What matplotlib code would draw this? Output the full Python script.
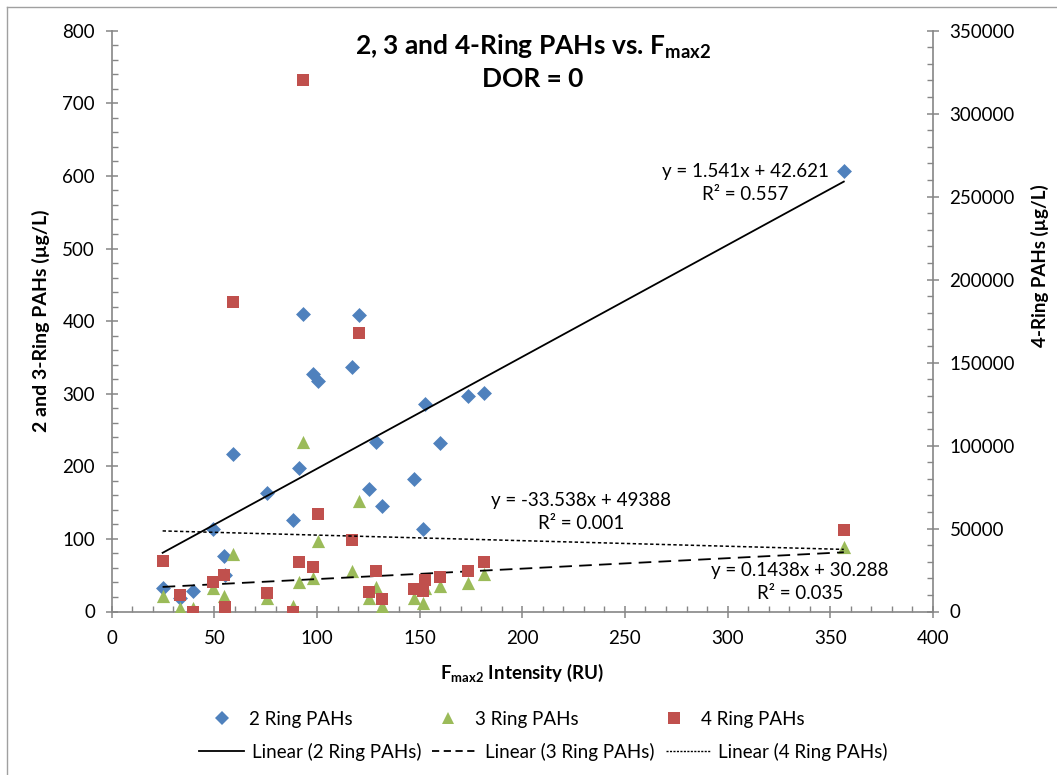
import matplotlib
matplotlib.use("Agg")
import matplotlib.pyplot as plt
from matplotlib.lines import Line2D
from matplotlib.ticker import MultipleLocator
import numpy as np

# Fluorescence intensity (RU) for each sample
fmax2 = [24.8, 33.5, 39.7, 49.2, 54.7, 55.2, 58.9, 75.8, 88.5, 91.4, 93.3, 97.9,
         100.5, 117.0, 120.5, 125.2, 128.6, 131.7, 147.2, 151.5, 152.6, 159.8,
         173.4, 181.5, 356.6]
# PAH concentrations (ug/L)
ring2 = [32, 18.6, 28.2, 114, 76.4, 50, 216.5, 162.8, 126, 198, 410, 327,
         317, 337, 408, 168.3, 233.9, 145.3, 182.5, 113.2, 285.8, 231.7,
         296.4, 300.5, 607.2]
ring3 = [21.8, 4.4, 5, 32, 21.4, 6, 79.2, 18, 8, 41, 233.9, 46.5,
         97.5, 55.8, 151.8, 18.2, 34.2, 7, 19.1, 11.3, 32, 35.8,
         38.9, 51.8, 88.4]
ring4 = [30600, 9950, 0, 17950, 22000, 2900, 186700, 11300, 0, 30000, 320100, 26600,
         58600, 43100, 168000, 11560, 24600, 7530, 13740, 12500, 19000, 21000,
         24400, 30000, 49100]

# Linear trend coefficients (slope, intercept, R^2)
fit2 = (1.541, 42.621, 0.557)
fit3 = (0.1438, 30.288, 0.035)
fit4 = (-33.538, 49388, 0.001)

series_names = ["2 Ring PAHs", "3 Ring PAHs", "4 Ring PAHs"]
c_blue, c_green, c_red = "#4F81BD", "#9BBB59", "#C0504D"
axis_gray = "#868686"

plt.rcParams["font.family"] = ["Lato", "DejaVu Sans"]
plt.rcParams["mathtext.default"] = "regular"

W, H = 1057, 775
fig = plt.figure(figsize=(W / 100, H / 100), dpi=100)
ax = fig.add_axes([111.7 / W, 1 - 611.5 / H, (932.9 - 111.7) / W, (611.5 - 30.7) / H])
ax2 = ax.twinx()

x = np.array(fmax2)
xs = np.array([x.min(), x.max()])

# scatter series
ax.scatter(fmax2, ring2, marker="D", s=7.6 ** 2, color=c_blue, linewidths=0, zorder=3)
ax.scatter(fmax2, ring3, marker="^", s=9.5 ** 2, color=c_green, linewidths=0, zorder=3)
ax2.scatter(fmax2, ring4, marker="s", s=9.0 ** 2, color=c_red, linewidths=0, zorder=3)

# trend lines
ax.plot(xs, fit2[0] * xs + fit2[1], color="black", lw=1.3, zorder=4)
ax.plot(xs, fit3[0] * xs + fit3[1], color="black", lw=1.3, dashes=(7, 4), zorder=4)
ax2.plot(xs, fit4[0] * xs + fit4[1], color="black", lw=1.1, dashes=(2.2, 1.6), zorder=4)

# axes limits and ticks
ax.set_xlim(0, 400)
ax.set_ylim(0, 800)
ax2.set_ylim(0, 350000)
ax.xaxis.set_major_locator(MultipleLocator(50))
ax.xaxis.set_minor_locator(MultipleLocator(10))
ax.yaxis.set_major_locator(MultipleLocator(100))
ax.yaxis.set_minor_locator(MultipleLocator(20))
ax2.yaxis.set_major_locator(MultipleLocator(50000))
ax2.yaxis.set_minor_locator(MultipleLocator(10000))

for a in (ax, ax2):
    for s in a.spines.values():
        s.set_visible(False)
    a.patch.set_visible(False)
ax.spines["left"].set_visible(True)
ax.spines["bottom"].set_visible(True)
ax2.spines["right"].set_visible(True)
for sp in (ax.spines["left"], ax.spines["bottom"], ax2.spines["right"]):
    sp.set_color(axis_gray)
    sp.set_linewidth(1.2)

tick_font = 13.5
ax.tick_params(axis="x", which="major", direction="inout", length=8, width=1.1,
               color=axis_gray, labelsize=tick_font, pad=9, labelcolor="black")
ax.tick_params(axis="y", which="major", direction="inout", length=8, width=1.1,
               color=axis_gray, labelsize=tick_font, pad=8, labelcolor="black")
ax.tick_params(which="minor", direction="in", length=4, width=1.0, color=axis_gray)
ax2.tick_params(which="major", direction="inout", length=8, width=1.1, color=axis_gray,
                labelsize=tick_font, pad=8, labelcolor="black")
ax2.tick_params(which="minor", direction="in", length=4, width=1.0, color=axis_gray)

lab_font = 13.5
ax.set_xlabel(r"F$_{max2}$ Intensity (RU)", fontsize=lab_font, fontweight="bold", labelpad=11)
ax.set_ylabel("2 and 3-Ring PAHs (µg/L)", fontsize=14, fontweight="bold", labelpad=9)
fig.text(1040 / W, 1 - 266 / H, "4-Ring PAHs (µg/L)", rotation=90, fontsize=lab_font,
         fontweight="bold", ha="center", va="center")

# title
fig.text(533 / W, 1 - 62 / H, "2, 3 and 4-Ring PAHs vs. F$_{max2}$\nDOR = 0",
         fontsize=19, fontweight="bold", ha="center", va="center", linespacing=1.3)

# trend equations
def eq_text(fit):
    m, b, r2 = fit
    return f"y = {m:g}x + {b:g}\nR² = {r2:.3f}"

eq_kw = dict(fontsize=13.5, ha="center", va="center", linespacing=1.45)
fig.text(745 / W, 1 - 183 / H, eq_text(fit2), **eq_kw)
fig.text(581 / W, 1 - 512 / H, eq_text(fit4), **eq_kw)
fig.text(800 / W, 1 - 582 / H, eq_text(fit3), **eq_kw)

# legend rows
leg_font = 13.5
mk_handles = [
    Line2D([], [], ls="none", marker="D", ms=7.0, color=c_blue, mew=0),
    Line2D([], [], ls="none", marker="^", ms=8.5, color=c_green, mew=0),
    Line2D([], [], ls="none", marker="s", ms=8.0, color=c_red, mew=0),
]
fig.legend(mk_handles, series_names, loc="center left", ncol=3, borderpad=0,
           borderaxespad=0, bbox_to_anchor=(212.5 / W, 1 - 719 / H), frameon=False,
           fontsize=leg_font, handlelength=1.0, handletextpad=0.94, columnspacing=4.6)
ln_handles = [
    Line2D([], [], color="black", lw=1.3),
    Line2D([], [], color="black", lw=1.3, dashes=(4, 2.5)),
    Line2D([], [], color="black", lw=1.0, dashes=(1.5, 1.0)),
]
fig.legend(ln_handles, [f"Linear ({n})" for n in series_names], loc="center left",
           ncol=3, borderpad=0, borderaxespad=0, bbox_to_anchor=(199 / W, 1 - 752 / H),
           frameon=False, fontsize=leg_font, handlelength=2.4, handletextpad=0.4,
           columnspacing=0.6)

# chart area border (top and left edges)
fig.add_artist(Line2D([7 / W, 7 / W], [0, 1 - 7 / H], transform=fig.transFigure,
                      color="#A0A0A0", lw=1.0))
fig.add_artist(Line2D([7 / W, 1], [1 - 7 / H, 1 - 7 / H], transform=fig.transFigure,
                      color="#A0A0A0", lw=1.0))

fig.savefig("out.png", dpi=100, facecolor="white")
